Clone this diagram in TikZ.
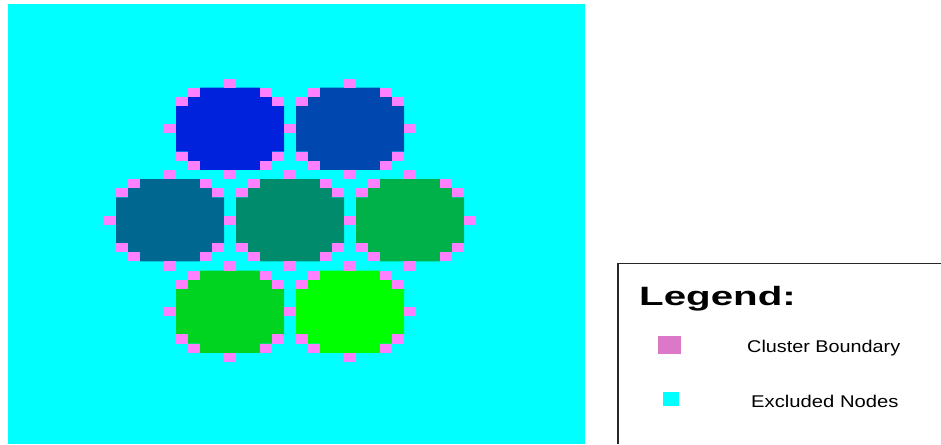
\documentclass[tikz,border=0pt]{standalone}
\usepackage{fontspec}
\setmainfont{Liberation Sans}
\usepackage{graphicx}

\definecolor{exclcyan}{HTML}{00FFFF}
\definecolor{bndpink}{HTML}{FF80FF}
\definecolor{legpink}{HTML}{DC78C8}
\definecolor{clA}{HTML}{0022DD}
\definecolor{clB}{HTML}{0048B0}
\definecolor{clC}{HTML}{006890}
\definecolor{clD}{HTML}{008C6C}
\definecolor{clE}{HTML}{00B048}
\definecolor{clF}{HTML}{00D420}
\definecolor{clG}{HTML}{00FF00}

% one cluster: grid column, grid row, fill colour
\newcommand{\drawcluster}[3]{%
  \begin{scope}[shift={(#1,#2)}]
    \fill[#3] (2,0) -- (7,0) -- (7,1) -- (8,1) -- (8,2) -- (9,2) -- (9,7)
      -- (8,7) -- (8,8) -- (7,8) -- (7,9) -- (2,9) -- (2,8) -- (1,8)
      -- (1,7) -- (0,7) -- (0,2) -- (1,2) -- (1,1) -- (2,1) -- cycle;
    \foreach \cx/\cy in {4/-1,1/0,7/0,0/1,8/1,-1/4,9/4,0/7,8/7,1/8,7/8,4/9}
      \fill[bnd] (\cx,\cy) rectangle ++(1,1);
  \end{scope}}

\begin{document}
\begin{tikzpicture}[
  x=1pt, y=-1pt,
  bnd/.style={fill=bndpink},
  legtitle/.style={anchor=base west, inner sep=0pt, font=\bfseries\fontsize{26.5}{30}\selectfont},
  legtext/.style={anchor=base west, inner sep=0pt, font=\fontsize{17}{20}\selectfont},
  legframe/.style={line width=1.5pt, black!85},
]
\useasboundingbox (0,0) rectangle (941,444);

% ── Excluded area ──
\fill[exclcyan] (8,4) rectangle (585,444);

% ── Clusters on a 12 x 9.14 grid ──
\begin{scope}[shift={(176,87.7)}, x=12pt, y=-9.14pt]
  \drawcluster{0}{0}{clA}
  \drawcluster{10}{0}{clB}
  \drawcluster{-5}{10}{clC}
  \drawcluster{5}{10}{clD}
  \drawcluster{15}{10}{clE}
  \drawcluster{0}{20}{clF}
  \drawcluster{10}{20}{clG}
\end{scope}

% ── Legend ──
\draw[legframe] (941,263.5) -| (618,444);
\node[legtitle] (title) at (639,305.5) {\scalebox{1.52}[1]{Legend:}};
\fill[legpink] (658.3,336) rectangle (680.7,354);
\node[legtext] (bndlabel) at (747,352) {\scalebox{1.165}[1]{Cluster Boundary}};
\fill[exclcyan] (663,392) rectangle (679,406);
\node[legtext] (excllabel) at (751,407) {\scalebox{1.19}[1]{Excluded Nodes}};

\end{tikzpicture}
\end{document}
